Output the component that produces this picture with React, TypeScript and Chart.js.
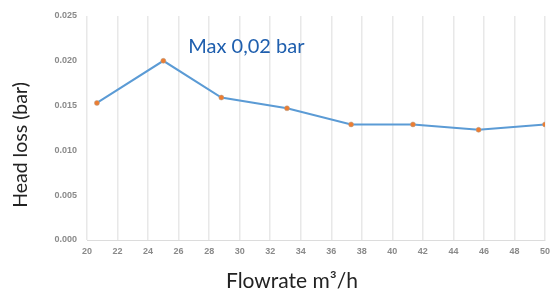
import React, { useEffect, useRef } from "react";
import { Chart, registerables } from "chart.js";

Chart.register(...registerables);

const flowrate = [20.65, 25, 28.8, 33.1, 37.3, 41.35, 45.65, 50];
const headLoss = [0.0153, 0.02, 0.0159, 0.0147, 0.0129, 0.0129, 0.0123, 0.0129];
const yTitle = "Head loss (bar)";
const xTitle = "Flowrate m³/h";
const annotation = "Max 0,02 bar";

const textPlugin = {
  id: "texts",
  afterDraw(chart: any) {
    const { ctx, scales } = chart;
    ctx.save();
    ctx.fillStyle = "#222";
    ctx.textAlign = "center";
    ctx.textBaseline = "middle";
    ctx.font = "21px Lato";
    ctx.fillText(xTitle, 292, 281);
    ctx.font = "19.5px Lato";
    ctx.translate(21, 145);
    ctx.rotate(-Math.PI / 2);
    ctx.fillText(yTitle, 0, 0);
    ctx.restore();
    ctx.save();
    ctx.fillStyle = "#1f5fae";
    ctx.font = "20px Lato";
    ctx.textAlign = "left";
    ctx.textBaseline = "alphabetic";
    ctx.fillText(annotation, scales.x.getPixelForValue(25) + 25, scales.y.getPixelForValue(0.02) - 8);
    ctx.restore();
  },
};

export default function App() {
  const ref = useRef<HTMLCanvasElement>(null);
  useEffect(() => {
    const chart = new Chart(ref.current!, {
      type: "line",
      data: {
        datasets: [
          {
            data: flowrate.map((x, i) => ({ x, y: headLoss[i] })),
            borderColor: "#5b9bd5",
            borderWidth: 2,
            pointBackgroundColor: "#ed7d31",
            pointBorderColor: "#b0a090",
            pointBorderWidth: 0.5,
            pointRadius: 2.5,
            tension: 0,
          },
        ],
      },
      options: {
        animation: false,
        responsive: false,
        layout: { padding: { top: 16, right: 12, left: 0, bottom: 0 } },
        plugins: { legend: { display: false }, tooltip: { enabled: false } },
        scales: {
          x: {
            type: "linear",
            min: 20,
            max: 50,
            ticks: {
              stepSize: 2,
              color: "#8a8a8a",
              font: { size: 9, weight: "bold", family: "Liberation Sans" },
              padding: 6,
            },
            grid: { color: "#e8e8e8", drawTicks: false, lineWidth: 1.5 },
            border: { color: "#dcdcdc" },
            afterFit: (s: any) => {
              s.height = 53;
            },
          },
          y: {
            min: 0,
            max: 0.025,
            ticks: {
              stepSize: 0.005,
              color: "#8a8a8a",
              font: { size: 9, weight: "bold", family: "Liberation Sans" },
              padding: 10,
              callback: (v: any) => Number(v).toFixed(3),
            },
            grid: { display: false, drawTicks: false },
            border: { display: false },
            afterFit: (s: any) => {
              s.width = 87;
            },
          },
        },
      },
      plugins: [textPlugin],
    } as any);
    return () => chart.destroy();
  }, []);
  return (
    <div style={{ position: "fixed", left: 0, top: 0, width: 557, height: 293, background: "#fff" }}>
      <canvas ref={ref} width={557} height={293} />
    </div>
  );
}
